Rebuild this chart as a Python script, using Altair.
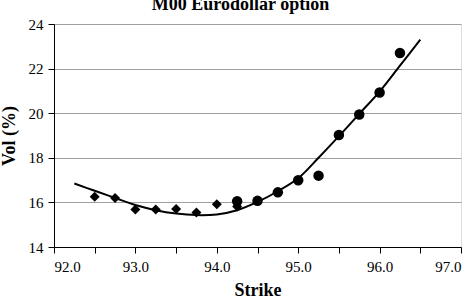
import altair as alt
import pandas as pd

# Observed vols: puts (diamonds) and calls (circles)
put_strikes = [92.5, 92.75, 93.0, 93.25, 93.5, 93.75, 94.0, 94.25]
put_vols = [16.25, 16.2, 15.68, 15.68, 15.7, 15.55, 15.92, 15.82]

call_strikes = [94.25, 94.5, 94.75, 95.0, 95.25, 95.5, 95.75, 96.0, 96.25]
call_vols = [16.05, 16.07, 16.45, 16.99, 17.2, 19.02, 19.94, 20.93, 22.7]

# Fitted smile curve
fit_strikes = [92.25, 92.5, 92.75, 93.0, 93.25, 93.5, 93.75, 94.0, 94.25,
               94.5, 94.75, 95.0, 95.25, 95.5, 95.75, 96.0, 96.25, 96.5]
fit_vols = [16.85, 16.52, 16.2, 15.88, 15.65, 15.5, 15.43, 15.46, 15.65,
            16.02, 16.5, 17.08, 18.0, 18.97, 19.97, 20.97, 22.13, 23.3]

x_ticks = [92.0, 92.5, 93.0, 93.5, 94.0, 94.5, 95.0, 95.5, 96.0, 96.5, 97.0]
y_ticks = [14, 15, 16, 17, 18, 19, 20, 21, 22, 23, 24]

puts = pd.DataFrame({"strike": put_strikes, "vol": put_vols})
calls = pd.DataFrame({"strike": call_strikes, "vol": call_vols})
fit = pd.DataFrame({"strike": fit_strikes, "vol": fit_vols})

FONT = "Liberation Serif"

x_enc = alt.X(
    "strike:Q",
    scale=alt.Scale(domain=[92, 97], nice=False, zero=False),
    axis=alt.Axis(
        values=x_ticks,
        format=".1f",
        labelExpr="datum.value % 1 === 0 ? datum.label : ''",
        title="Strike",
        grid=False,
        domainColor="black",
        tickColor="black",
        tickSize=6,
        labelPadding=6,
        labelFont=FONT,
        labelFontSize=15,
        labelColor="black",
        titleFont=FONT,
        titleFontSize=18,
        titleFontWeight="bold",
        titleColor="black",
        titlePadding=7,
    ),
)

y_enc = alt.Y(
    "vol:Q",
    scale=alt.Scale(domain=[14, 24], nice=False, zero=False),
    axis=alt.Axis(
        values=y_ticks,
        labelExpr="datum.value % 2 === 0 ? datum.label : ''",
        title="Vol (%)",
        grid=True,
        gridColor="#a0a0a0",
        gridWidth=1,
        gridOpacity={"expr": "datum.value % 2 === 0 ? 1 : 0"},
        domainColor="black",
        tickColor="black",
        tickSize=6,
        labelPadding=5,
        labelFont=FONT,
        labelFontSize=15,
        labelColor="black",
        titleFont=FONT,
        titleFontSize=18,
        titleFontWeight="bold",
        titleColor="black",
        titlePadding=10,
    ),
)

line = alt.Chart(fit).mark_line(color="black", strokeWidth=2, interpolate="catmull-rom").encode(
    x=x_enc, y=y_enc
)
diamonds = alt.Chart(puts).mark_point(
    shape="diamond", filled=True, color="black", size=100, opacity=1
).encode(x="strike:Q", y="vol:Q")
circles = alt.Chart(calls).mark_point(
    shape="circle", filled=True, color="black", size=110, opacity=1
).encode(x="strike:Q", y="vol:Q")

chart = alt.layer(line, diamonds, circles).properties(
    width=407,
    height=223,
    title=alt.TitleParams(
        "M00 Eurodollar option",
        font=FONT,
        fontSize=18,
        fontWeight="bold",
        color="black",
        anchor="middle",
        dx=-17,
        offset=3,
    ),
    autosize=alt.AutoSizeParams(type="none"),
    padding={"left": 54, "top": 24, "right": 11, "bottom": 55},
).configure_view(stroke="black", strokeWidth=1).configure(background="white")

chart.save("out.html", embed_options={"renderer": "svg", "actions": False})
